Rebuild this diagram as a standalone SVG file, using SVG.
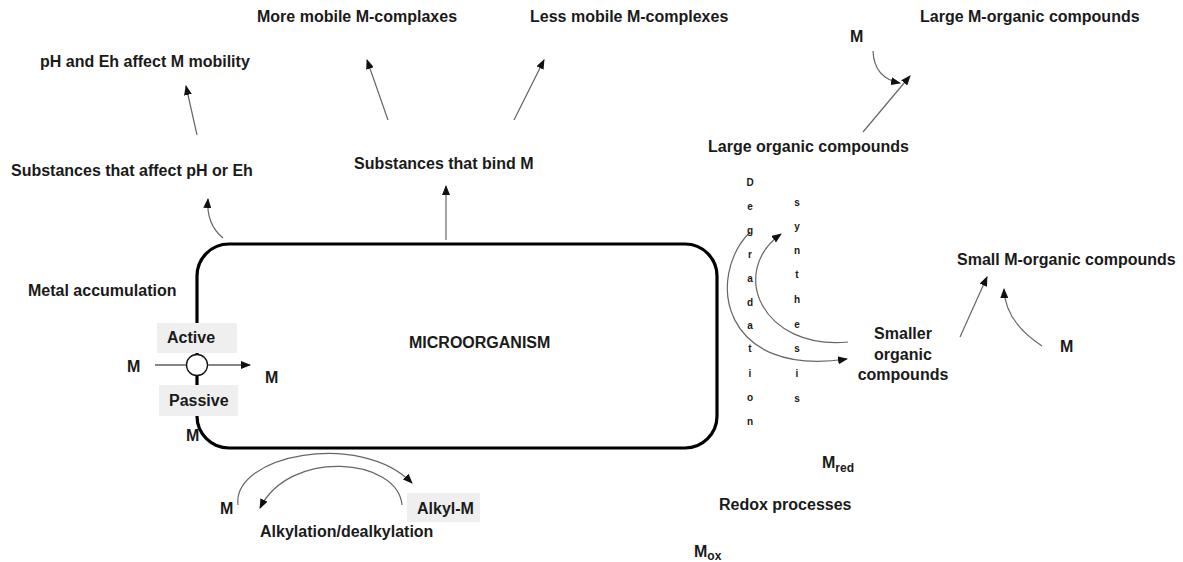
<svg xmlns="http://www.w3.org/2000/svg" width="1183" height="562" viewBox="0 0 1183 562">
<defs>
<marker id="ah" markerUnits="userSpaceOnUse" markerWidth="10" markerHeight="8" refX="9" refY="4" orient="auto">
<path d="M0,0 L10,4 L0,8 Z" fill="#111"/>
</marker>
<style>
text{font-family:"Liberation Sans",Arial,sans-serif;font-weight:bold;font-size:16px;fill:#1a1a1a}
.sm{font-size:10px;text-anchor:middle}
.sub{font-size:12px}
.c{stroke:#666;stroke-width:1.2;fill:none;marker-end:url(#ah)}
.box{fill:#efefef;stroke:none}
</style>
</defs>
<rect width="1183" height="562" fill="#fff"/>

<g id="microorganism">
<rect x="197" y="244" width="520" height="204" rx="32" ry="32" fill="none" stroke="#000" stroke-width="3.2"/>
<text x="409" y="348">MICROORGANISM</text>
</g>

<g id="metal-accumulation">
<text x="28" y="296">Metal accumulation</text>
<rect class="box" x="157" y="323" width="80" height="30"/>
<text x="167" y="343">Active</text>
<rect class="box" x="159" y="385" width="79" height="31"/>
<text x="169" y="406">Passive</text>
<text x="127" y="372">M</text>
<text x="265" y="383">M</text>
<text x="186" y="441">M</text>
</g>

<g id="connectors">
<path class="c" d="M197,135 L186,86"/>
<path class="c" d="M223,238 Q206,224 208,199"/>
<path class="c" d="M388,120 L367,60"/>
<path class="c" d="M514,120 L544,60"/>
<path class="c" d="M446,240 L446,186"/>
<path class="c" d="M873,51 Q874,78 900,83"/>
<path class="c" d="M863,132 L910,76"/>
<path class="c" d="M750,232 C705,278 722,378 847,359"/>
<path class="c" d="M848,342 C762,350 728,272 781,234"/>
<path class="c" d="M960,337 L987,277"/>
<path class="c" d="M1042,346 Q1005,322 1004,289"/>
<path class="c" d="M238,505 C232,455 360,430 412,483"/>
<path class="c" d="M402,505 C398,458 290,448 260,508"/>
<path d="M155,365 L250,365" stroke="#111" stroke-width="1.2" fill="none" marker-end="url(#ah)"/>
</g>

<g id="channel">
<circle cx="197" cy="365" r="10.5" fill="#fff" stroke="#111" stroke-width="1.3"/>
</g>

<g id="ph-eh">
<text x="40" y="67">pH and Eh affect M mobility</text>
<text x="11" y="176">Substances that affect pH or Eh</text>
</g>

<g id="binding">
<text x="257" y="22">More mobile M-complaxes</text>
<text x="530" y="22">Less mobile M-complexes</text>
<text x="354" y="169">Substances that bind M</text>
</g>

<g id="large-organic">
<text x="920" y="22">Large M-organic compounds</text>
<text x="850" y="42">M</text>
<text x="708" y="152">Large organic compounds</text>
</g>

<g id="degradation-synthesis">
<text class="sm" x="750" y="185.5">D</text>
<text class="sm" x="750" y="209.5">e</text>
<text class="sm" x="750" y="234">g</text>
<text class="sm" x="750" y="257.5">r</text>
<text class="sm" x="750" y="281.5">a</text>
<text class="sm" x="750" y="305.5">d</text>
<text class="sm" x="750" y="328.5">a</text>
<text class="sm" x="750" y="352">t</text>
<text class="sm" x="750" y="376.5">i</text>
<text class="sm" x="750" y="400.5">o</text>
<text class="sm" x="750" y="424.5">n</text>
<text class="sm" x="797" y="205.5">s</text>
<text class="sm" x="797" y="229.5">y</text>
<text class="sm" x="797" y="253.5">n</text>
<text class="sm" x="797" y="277.5">t</text>
<text class="sm" x="797" y="302.5">h</text>
<text class="sm" x="797" y="327.5">e</text>
<text class="sm" x="797" y="351.5">s</text>
<text class="sm" x="797" y="376.5">i</text>
<text class="sm" x="797" y="401.5">s</text>
</g>

<g id="smaller-organic">
<text x="903" y="339" text-anchor="middle">Smaller</text>
<text x="903" y="359.5" text-anchor="middle">organic</text>
<text x="903" y="380" text-anchor="middle">compounds</text>
</g>

<g id="small-m-organic">
<text x="957" y="265">Small M-organic compounds</text>
<text x="1060" y="352">M</text>
</g>

<g id="redox">
<text x="822" y="468">M<tspan class="sub" dy="4">red</tspan></text>
<text x="719" y="510">Redox processes</text>
<text x="694" y="557">M<tspan class="sub" dy="3">ox</tspan></text>
</g>

<g id="alkylation">
<rect class="box" x="407" y="493" width="73" height="29"/>
<text x="417" y="514">Alkyl-M</text>
<text x="220" y="514">M</text>
<text x="260" y="537">Alkylation/dealkylation</text>
</g>
</svg>
